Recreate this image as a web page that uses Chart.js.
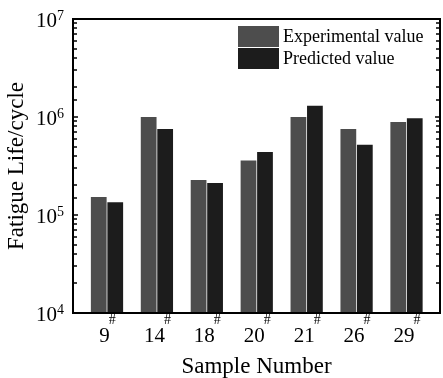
<!DOCTYPE html>
<html>
<head>
<meta charset="utf-8">
<script src="https://cdn.jsdelivr.net/npm/chart.js@4/dist/chart.umd.min.js"></script>
<style>
  html, body { margin: 0; padding: 0; background: #fff; }
</style>
</head>
<body>
<canvas id="migrafica" width="443" height="378"></canvas>
<script>
// sample numbers (shown as 9#, 14#, ...)
const samples = ["9", "14", "18", "20", "21", "26", "29"];
const experimental = [1.53e5, 1.0e6, 2.28e5, 3.6e5, 1.0e6, 7.55e5, 8.9e5];
const predicted = [1.35e5, 7.55e5, 2.12e5, 4.4e5, 1.3e6, 5.2e5, 9.7e5];
const seriesNames = ["Experimental value", "Predicted value"];
const seriesColors = ["#4d4d4d", "#1c1c1c"];
const yMin = 1e4, yMax = 1e7;

const serif = "'Liberation Serif', 'Times New Roman', serif";

// frame, inward ticks, superscript labels and legend
const frame = {
  id: "frame",
  afterDatasetsDraw(chart) {
    const { ctx, chartArea: a } = chart;
    const y = chart.scales.y, x = chart.scales.x;
    ctx.save();
    ctx.strokeStyle = "#000";
    ctx.fillStyle = "#000";
    ctx.lineWidth = 2;
    ctx.strokeRect(a.left, a.top, a.right - a.left, a.bottom - a.top);

    ctx.lineWidth = 1.5;
    y.ticks.forEach((t) => {
      const py = Math.round(y.getPixelForValue(t.value));
      const lg = Math.log10(t.value);
      const major = Math.abs(lg - Math.round(lg)) < 1e-6;
      const len = major ? 5 : 4;
      ctx.beginPath();
      ctx.moveTo(a.left, py);
      ctx.lineTo(a.left + len, py);
      ctx.moveTo(a.right, py);
      ctx.lineTo(a.right - len, py);
      ctx.stroke();
      if (major) {
        ctx.textAlign = "right";
        ctx.textBaseline = "alphabetic";
        ctx.font = "21px " + serif;
        ctx.fillText("10", a.left - 16, py + 8);
        ctx.textAlign = "left";
        ctx.font = "14px " + serif;
        ctx.fillText(String(Math.round(lg)), a.left - 16, py + 1);
      }
    });

    ctx.textBaseline = "alphabetic";
    samples.forEach((s, i) => {
      const px = x.getPixelForValue(i);
      ctx.font = "21px " + serif;
      const w1 = ctx.measureText(s).width;
      ctx.font = "14px " + serif;
      const w2 = ctx.measureText("#").width;
      const left = px - (w1 + w2) / 2 + 1;
      ctx.textAlign = "left";
      ctx.font = "21px " + serif;
      ctx.fillText(s, left, a.bottom + 29);
      ctx.font = "14px " + serif;
      ctx.fillText("#", left + w1 - 1, a.bottom + 11);
    });

    // legend
    chart.data.datasets.forEach((ds, i) => {
      const top = 26 + i * 22;
      ctx.fillStyle = ds.backgroundColor;
      ctx.fillRect(238, top, 41, 21);
      ctx.fillStyle = "#000";
      ctx.font = "18px " + serif;
      ctx.textAlign = "left";
      ctx.textBaseline = "middle";
      ctx.fillText(ds.label, 283, top + 11);
    });
    ctx.restore();
  }
};

const ctx = document.getElementById("migrafica").getContext("2d");
const config = {
  type: "bar",
  data: {
    datasets: [
      {
        label: seriesNames[0],
        data: experimental.map((v, i) => ({ x: i, y: v })),
        backgroundColor: seriesColors[0],
      },
      {
        label: seriesNames[1],
        data: predicted.map((v, i) => ({ x: i, y: v })),
        backgroundColor: seriesColors[1],
      },
    ],
  },
  options: {
    responsive: false,
    devicePixelRatio: 1,
    animation: false,
    layout: { padding: { left: 0, right: 3, top: 19, bottom: 0 } },
    categoryPercentage: 0.661,
    barPercentage: 0.955,
    plugins: { legend: { display: false }, tooltip: { enabled: false } },
    scales: {
      x: {
        type: "linear",
        offset: false,
        min: -0.681,
        max: 6.671,
        ticks: { display: false },
        grid: { display: false, offset: false },
        border: { display: false },
        title: { display: true, text: "Sample Number", color: "#000", font: { family: serif, size: 23 }, padding: { top: 0, bottom: -3 } },
        afterFit(s) { s.height = 65; },
      },
      y: {
        type: "logarithmic",
        min: yMin,
        max: yMax,
        ticks: { display: false },
        grid: { display: false },
        border: { display: false },
        title: { display: true, text: "Fatigue Life/cycle", color: "#000", font: { family: serif, size: 23 }, padding: 3 },
        afterFit(s) { s.width = 73; },
      },
    },
  },
  plugins: [frame],
};
window.myBar = new Chart(ctx, config);
</script>
</body>
</html>
